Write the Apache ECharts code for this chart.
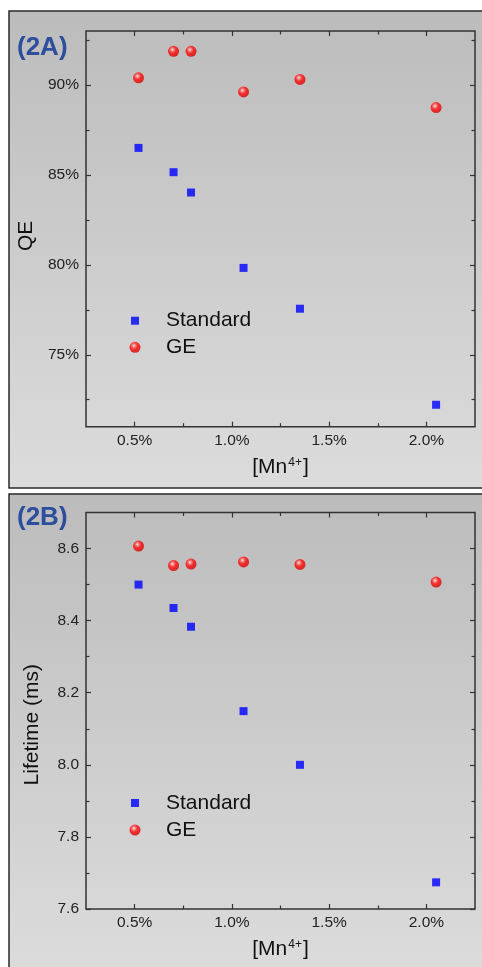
<!DOCTYPE html>
<html>
<head>
<meta charset="utf-8">
<script src="https://cdn.jsdelivr.net/npm/echarts@6/dist/echarts.min.js"></script>
<style>
html,body{margin:0;padding:0;background:#ffffff;}
#chart{width:482px;height:967px;}
</style>
</head>
<body>
<div id="chart"></div>
<script>
// ---- data ----
const concentration = [0.52, 0.70, 0.79, 1.06, 1.35, 2.05];      // [Mn4+] in %
const qeStandard    = [86.5, 85.15, 84.02, 79.83, 77.56, 72.22];  // QE %
const qeGE          = [90.4, 91.87, 91.87, 89.61, 90.31, 88.74];
const lifeStandard  = [8.50, 8.435, 8.383, 8.149, 8.0, 7.674];    // ms
const lifeGE        = [8.607, 8.553, 8.557, 8.563, 8.556, 8.507];
const xTicks    = [0.5, 1.0, 1.5, 2.0];
const xMinor    = [0.75, 1.25, 1.75];
const qeTicks   = [75, 80, 85, 90];
const qeMinor   = [72.5, 77.5, 82.5, 87.5, 92.5];
const lifeTicks = [7.6, 7.8, 8.0, 8.2, 8.4, 8.6];
const lifeMinor = [7.7, 7.9, 8.1, 8.3, 8.5];
const seriesNames = ['Standard', 'GE'];
const panelLabels = ['(2A)', '(2B)'];

const FONT = 'Arial, "Liberation Sans", sans-serif';
const AX = '#333333';
const chart = echarts.init(document.getElementById('chart'), null, {renderer: 'canvas'});

const sphere = {
  type: 'radial', x: 0.4, y: 0.35, r: 0.72,
  colorStops: [
    {offset: 0, color: '#ffffff'},
    {offset: 0.18, color: '#ff7a7a'},
    {offset: 0.45, color: '#ff0a0a'},
    {offset: 0.85, color: '#e00000'},
    {offset: 1, color: '#a80000'}
  ]
};

function zip(xs, ys) { return xs.map((x, i) => [x, ys[i]]); }

function xAxesFor(g) {
  const base = {type: 'value', gridIndex: g, min: 0.25, max: 2.25,
    axisLine: {show: false}, splitLine: {show: false}};
  const tl = {color: AX, width: 1.2};
  return [
    Object.assign({}, base, {position: 'bottom',
      axisTick: {inside: true, length: 5, customValues: xTicks, lineStyle: tl},
      axisLabel: {customValues: xTicks, margin: 6, fontSize: 15.5, color: '#222', fontFamily: FONT,
        formatter: v => v.toFixed(1) + '%'},
      name: '[Mn{sup|4+}]', nameLocation: 'middle', nameGap: 30,
      nameTextStyle: {fontSize: 21, color: '#111', fontFamily: FONT,
        rich: {sup: {fontSize: 12, verticalAlign: 'top', color: '#111', fontFamily: FONT, padding: [0, 1, 0, 1]}}}
    }),
    Object.assign({}, base, {position: 'top',
      axisTick: {inside: true, length: 5, customValues: xTicks, lineStyle: tl},
      axisLabel: {show: false}}),
    Object.assign({}, base, {position: 'bottom',
      axisTick: {inside: true, length: 3.5, customValues: xMinor, lineStyle: tl},
      axisLabel: {show: false}}),
    Object.assign({}, base, {position: 'top',
      axisTick: {inside: true, length: 3.5, customValues: xMinor, lineStyle: tl},
      axisLabel: {show: false}})
  ];
}

function yAxesFor(g, min, max, major, minor, fmt, name, gap, shift) {
  const base = {type: 'value', gridIndex: g, min: min, max: max,
    axisLine: {show: false}, splitLine: {show: false}};
  const tl = {color: AX, width: 1.2};
  return [
    Object.assign({}, base, {position: 'left',
      axisTick: {inside: true, length: 5, customValues: major, lineStyle: tl},
      axisLabel: {customValues: major, margin: 7, fontSize: 15.5, color: '#222', fontFamily: FONT, formatter: fmt},
      name: name, nameLocation: 'middle', nameGap: gap,
      nameTextStyle: {fontSize: 21, color: '#111', fontFamily: FONT, padding: [0, shift, 0, 0]}
    }),
    Object.assign({}, base, {position: 'right',
      axisTick: {inside: true, length: 5, customValues: major, lineStyle: tl},
      axisLabel: {show: false}}),
    Object.assign({}, base, {position: 'left',
      axisTick: {inside: true, length: 3.5, customValues: minor, lineStyle: tl},
      axisLabel: {show: false}}),
    Object.assign({}, base, {position: 'right',
      axisTick: {inside: true, length: 3.5, customValues: minor, lineStyle: tl},
      axisLabel: {show: false}})
  ];
}

function legendFor(name, isSphere, centerY) {
  const size = isSphere ? 11 : 8;
  return {
    data: [{name: name, icon: isSphere ? 'circle' : 'rect'}],
    left: 135 - size / 2, top: centerY - 11, orient: 'vertical', padding: 0,
    itemWidth: size, itemHeight: size, selectedMode: false,
    textStyle: {fontSize: 21, lineHeight: 22, color: '#111', fontFamily: FONT,
      padding: [0, 0, 0, 166 - (135 + size / 2) - 5]}
  };
}

function panelRect(y, h) {
  return {
    type: 'rect', z: -10, silent: true,
    shape: {x: 9, y: y, width: 490, height: h},
    style: {
      fill: {type: 'linear', x: 0, y: 0, x2: 0, y2: 1,
        colorStops: [{offset: 0, color: '#bcbcbc'}, {offset: 1, color: '#dcdcdc'}]},
      stroke: '#2a2a2a', lineWidth: 1.5
    }
  };
}

const option = {
  backgroundColor: '#ffffff',
  animation: false,
  graphic: [panelRect(11, 477), panelRect(494, 480)],
  title: [
    {text: panelLabels[0], left: 17, top: 35, padding: 0,
      textStyle: {fontSize: 26, fontWeight: 'bold', color: '#2d4d9d', fontFamily: FONT}},
    {text: panelLabels[1], left: 17, top: 505, padding: 0,
      textStyle: {fontSize: 26, fontWeight: 'bold', color: '#2d4d9d', fontFamily: FONT}}
  ],
  grid: [
    {left: 86, top: 31, width: 389, height: 395.7, show: true, borderColor: AX, borderWidth: 1.5, backgroundColor: 'transparent'},
    {left: 86, top: 512.5, width: 389, height: 396.5, show: true, borderColor: AX, borderWidth: 1.5, backgroundColor: 'transparent'}
  ],
  xAxis: xAxesFor(0).concat(xAxesFor(1)),
  yAxis: yAxesFor(0, 71, 93, qeTicks, qeMinor, v => v + '%', 'QE', 48, 14)
    .concat(yAxesFor(1, 7.6, 8.7, lifeTicks, lifeMinor, v => v.toFixed(1), 'Lifetime (ms)', 43, 28)),
  legend: [
    legendFor(seriesNames[0], false, 320.7),
    legendFor(seriesNames[1], true, 347.3),
    legendFor(seriesNames[0], false, 803),
    legendFor(seriesNames[1], true, 830)
  ],
  series: [
    {name: seriesNames[0], type: 'scatter', xAxisIndex: 0, yAxisIndex: 0, symbol: 'rect', symbolSize: 8,
      itemStyle: {color: '#0000ff'}, data: zip(concentration, qeStandard)},
    {name: seriesNames[1], type: 'scatter', xAxisIndex: 0, yAxisIndex: 0, symbol: 'circle', symbolSize: 11,
      itemStyle: {color: sphere}, data: zip(concentration, qeGE)},
    {name: seriesNames[0], type: 'scatter', xAxisIndex: 4, yAxisIndex: 4, symbol: 'rect', symbolSize: 8,
      itemStyle: {color: '#0000ff'}, data: zip(concentration, lifeStandard)},
    {name: seriesNames[1], type: 'scatter', xAxisIndex: 4, yAxisIndex: 4, symbol: 'circle', symbolSize: 11,
      itemStyle: {color: sphere}, data: zip(concentration, lifeGE)}
  ]
};
chart.setOption(option);
</script>
</body>
</html>
